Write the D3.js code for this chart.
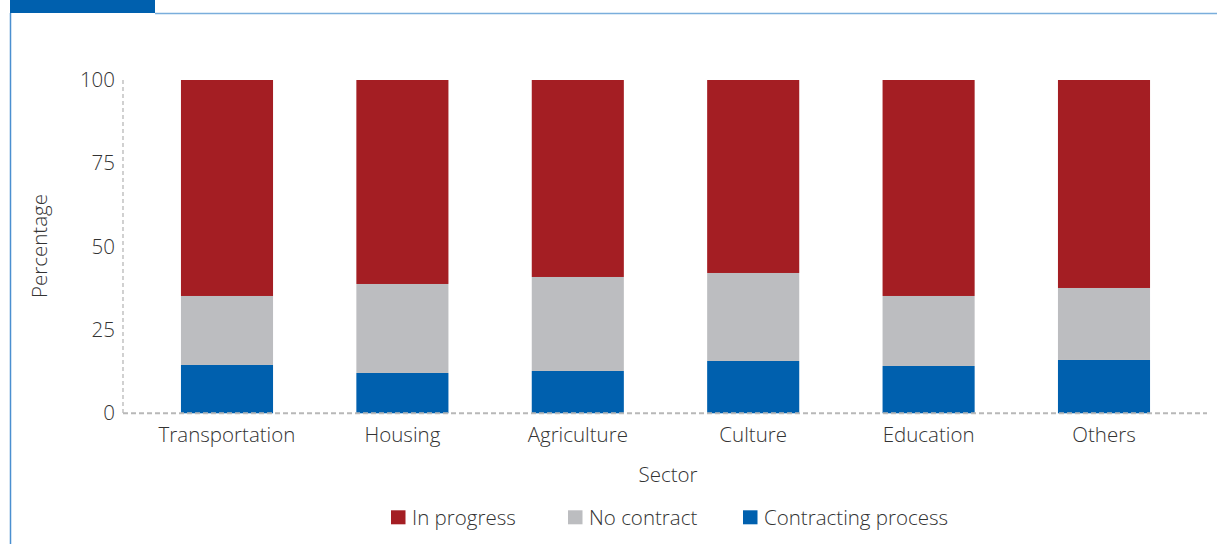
<!DOCTYPE html>
<html>
<head>
<meta charset="utf-8">
<script src="https://cdnjs.cloudflare.com/ajax/libs/d3/7.8.5/d3.min.js"></script>
<style>
  body { margin: 0; background: #fff; }
  svg { display: block; font-family: "Open Sans", Lato, sans-serif; font-weight: 300; }
  .tick text { fill: #333; }
</style>
</head>
<body>
<svg></svg>
<script>
var screen = {width: 1217, height: 544}

// data
var sectors = ["Transportation", "Housing", "Agriculture", "Culture", "Education", "Others"]
var contracting = [14.5, 12.1, 12.7, 15.7, 14.2, 16.0]
var noContract = [20.7, 26.7, 28.2, 26.4, 21.0, 21.6]
var inProgress = [64.8, 61.2, 59.1, 57.9, 64.8, 62.4]
var yTicks = [0, 25, 50, 75, 100]

var seriesKeys = ["contracting", "noContract", "inProgress"]
var seriesNames = {inProgress: "In progress", noContract: "No contract", contracting: "Contracting process"}
var colors = {inProgress: "#a41e23", noContract: "#bcbdc0", contracting: "#0060ae"}

var fontSize = 20.5

var table = sectors.map(function(s, i) {
    return {sector: s, contracting: contracting[i], noContract: noContract[i], inProgress: inProgress[i]}
})

var svg = d3.select("svg")
    .attr("width", screen.width)
    .attr("height", screen.height)

// frame: tab + top rule + left rule
svg.append("rect").attr("x", 10).attr("y", 0).attr("width", 145).attr("height", 13).attr("fill", "#0060ae")
svg.append("line").attr("x1", 155).attr("x2", screen.width).attr("y1", 13.5).attr("y2", 13.5)
    .attr("stroke", "#7aaedc").attr("stroke-width", 1.5)
svg.append("line").attr("x1", 10.5).attr("x2", 10.5).attr("y1", 13).attr("y2", screen.height)
    .attr("stroke", "#4a8fd0").attr("stroke-width", 1.5)

var plot = {left: 123, right: 1207, top: 80, bottom: 413.3}

var xScale = d3.scaleBand()
    .domain(sectors)
    .range([139.3, 1191.7])
    .paddingInner(0.475)
    .paddingOuter(0.2375)

var yScale = d3.scaleLinear()
    .domain([0, 100])
    .range([plot.bottom, plot.top])

var stack = d3.stack().keys(seriesKeys)
var layers = stack(table)

svg.append("g")
    .selectAll("g")
    .data(layers)
    .enter()
    .append("g")
    .attr("fill", function(d) { return colors[d.key] })
    .selectAll("rect")
    .data(function(d) { return d })
    .enter()
    .append("rect")
    .attr("x", function(d) { return xScale(d.data.sector) })
    .attr("width", xScale.bandwidth())
    .attr("y", function(d) { return yScale(d[1]) })
    .attr("height", function(d) { return yScale(d[0]) - yScale(d[1]) })

// dashed axis lines
svg.append("line")
    .attr("x1", plot.left).attr("x2", plot.left)
    .attr("y1", plot.top).attr("y2", plot.bottom)
    .attr("stroke", "#b8b8b8").attr("stroke-width", 1.3).attr("stroke-dasharray", "4,3")
svg.append("line")
    .attr("x1", plot.left).attr("x2", plot.right)
    .attr("y1", plot.bottom).attr("y2", plot.bottom)
    .attr("stroke", "#b8b8b8").attr("stroke-width", 2).attr("stroke-dasharray", "5,3")

var yAxis = d3.axisLeft(yScale).tickValues(yTicks).tickSize(0).tickPadding(8)
svg.append("g")
    .attr("transform", "translate(" + plot.left + ",0)")
    .call(yAxis)
    .attr("font-family", null)
    .attr("font-size", fontSize)
    .call(function(g) { g.select(".domain").remove() })

var xAxis = d3.axisBottom(xScale).tickSize(0).tickPadding(14.5)
svg.append("g")
    .attr("transform", "translate(0," + plot.bottom + ")")
    .call(xAxis)
    .attr("font-family", null)
    .attr("font-size", fontSize)
    .call(function(g) { g.select(".domain").remove() })

// axis titles
svg.append("text")
    .attr("transform", "translate(47,246) rotate(-90)")
    .attr("text-anchor", "middle")
    .attr("font-size", fontSize)
    .attr("fill", "#333")
    .text("Percentage")

svg.append("text")
    .attr("x", 668).attr("y", 482)
    .attr("text-anchor", "middle")
    .attr("font-size", fontSize)
    .attr("fill", "#333")
    .text("Sector")

// legend
var legendOrder = ["inProgress", "noContract", "contracting"]
var legendX = [391, 568, 743]
var legend = svg.append("g")
    .selectAll("g")
    .data(legendOrder)
    .enter()
    .append("g")
    .attr("transform", function(d, i) { return "translate(" + legendX[i] + ",510.3)" })

legend.append("rect")
    .attr("width", 14.5).attr("height", 14)
    .attr("fill", function(d) { return colors[d] })

legend.append("text")
    .attr("x", 21).attr("y", 14.5)
    .attr("font-size", fontSize)
    .attr("fill", "#333")
    .text(function(d) { return seriesNames[d] })
</script>
</body>
</html>
